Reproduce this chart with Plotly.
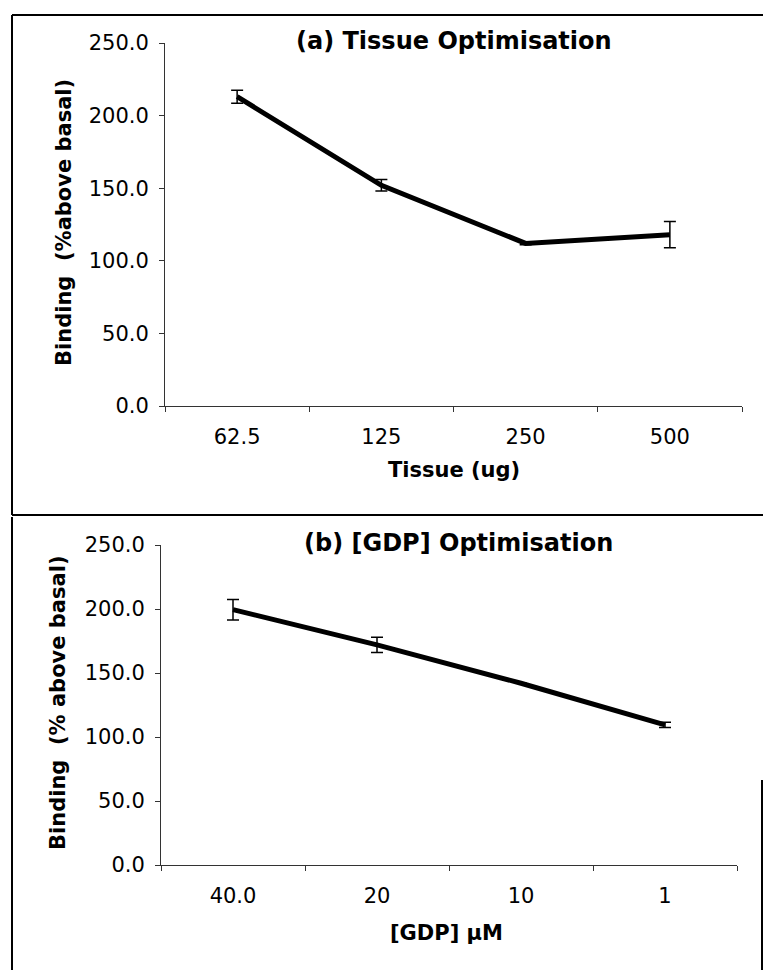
import plotly.graph_objects as go

# Panel (a) data
tissue_labels = ["62.5", "125", "250", "500"]
tissue_binding = [213.0, 152.0, 112.0, 118.0]
tissue_err = [4.5, 4.0, 1.0, 9.0]

# Panel (b) data
gdp_labels = ["40.0", "20", "10", "1"]
gdp_binding = [199.5, 172.0, 142.0, 109.5]
gdp_err = [8.0, 6.0, 0.0, 2.0]

y_ticks = [0, 50, 100, 150, 200, 250]
y_ticktext = ["0.0", "50.0", "100.0", "150.0", "200.0", "250.0"]

W, H = 763, 970
def px(x): return x / W
def py(y): return 1 - y / H

TICKFONT = dict(family="DejaVu Sans", size=21, color="black")
BOLD = dict(family="DejaVu Sans", size=21, color="black", weight="bold")

fig = go.Figure()
fig.add_trace(go.Scatter(
    x=tissue_labels, y=tissue_binding, mode="lines",
    line=dict(color="black", width=5),
    error_y=dict(type="data", array=tissue_err, visible=True, color="black", thickness=1.5, width=6),
    xaxis="x", yaxis="y", showlegend=False))
fig.add_trace(go.Scatter(
    x=gdp_labels, y=gdp_binding, mode="lines",
    line=dict(color="black", width=5),
    error_y=dict(type="data", array=gdp_err, visible=True, color="black", thickness=1.5, width=6),
    xaxis="x2", yaxis="y2", showlegend=False))

xcommon = dict(type="category", range=[-0.5, 3.5], showgrid=False, zeroline=False, showline=True,
               linecolor="#333", linewidth=1, ticks="outside", ticklen=5,
               tickcolor="#333", tickson="boundaries", tickfont=TICKFONT,
               ticklabelstandoff=12, automargin=False)
ycommon = dict(range=[0, 250], tickvals=y_ticks, ticktext=y_ticktext, showgrid=False,
               zeroline=False, showline=True, linecolor="#333", linewidth=1,
               ticks="outside", ticklen=5, tickcolor="#333", tickfont=TICKFONT,
               ticklabelstandoff=6, automargin=False)

fig.update_layout(
    width=W, height=H, margin=dict(l=0, r=0, t=0, b=0, pad=0, autoexpand=False),
    paper_bgcolor="white", plot_bgcolor="white", showlegend=False,
    xaxis=dict(domain=[px(165), px(742)], anchor="y", **xcommon),
    yaxis=dict(domain=[py(406), py(43)], anchor="x", **ycommon),
    xaxis2=dict(domain=[px(161), px(737)], anchor="y2", **xcommon),
    yaxis2=dict(domain=[py(865), py(545)], anchor="x2", **ycommon),
)

annos = [
    dict(text="(a) Tissue Optimisation", x=px(454), y=py(41), font=dict(family="DejaVu Sans", size=24, color="black", weight="bold")),
    dict(text="(b) [GDP] Optimisation", x=px(458), y=py(543), font=dict(family="DejaVu Sans", size=24, color="black", weight="bold")),
    dict(text="Tissue (ug)", x=px(454), y=py(470), font=BOLD),
    dict(text="[GDP] µM", x=px(446), y=py(933), font=BOLD),
    dict(text="Binding  (%above basal)", x=px(64), y=py(223), textangle=-90, font=BOLD),
    dict(text="Binding  (% above basal)", x=px(58), y=py(703), textangle=-90, font=BOLD),
]
for a in annos:
    fig.add_annotation(xref="paper", yref="paper", showarrow=False,
                       xanchor="center", yanchor="middle", **a)

# panel borders
lines = [
    (12, 15, 763, 15),
    (12, 15, 12, 515),
    (12, 515, 763, 515),
    (12, 517, 12, 970),
    (762, 780, 762, 970),
]
for x0, y0, x1, y1 in lines:
    fig.add_shape(type="line", xref="paper", yref="paper",
                  x0=px(x0), y0=py(y0), x1=px(x1), y1=py(y1),
                  line=dict(color="black", width=2))

fig.write_html("out.html")
